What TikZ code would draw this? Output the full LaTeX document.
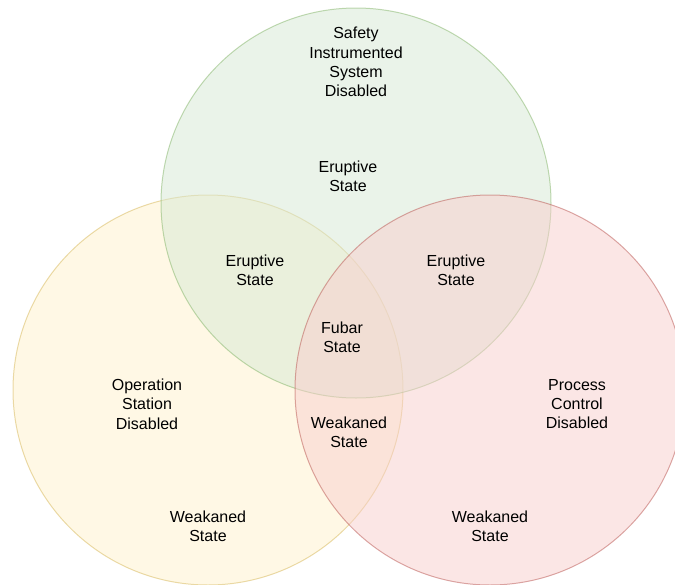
\documentclass[tikz,border=0pt]{standalone}
\usepackage{fontspec}
\setmainfont{Liberation Sans}
\definecolor{greenfill}{HTML}{D5E8D4}
\definecolor{greenline}{HTML}{82B366}
\definecolor{yellowfill}{HTML}{FFF2CC}
\definecolor{yellowline}{HTML}{D6B656}
\definecolor{redfill}{HTML}{F8CECC}
\definecolor{redline}{HTML}{B85450}
\begin{document}
\begin{tikzpicture}[x=1pt,y=-1pt,
  setcircle/.style={circle, minimum size=390pt, inner sep=0pt, line width=1pt, opacity=0.5},
  vtext/.style={align=center, font=\fontsize{16}{19.3}\selectfont, text=black, inner sep=0pt}]
\useasboundingbox (0,0) rectangle (675,584);
\clip (0,0) rectangle (675,584);
% the three sets
\node[setcircle, draw=yellowline, fill=yellowfill] (ops) at (208,390) {};
\node[setcircle, draw=greenline, fill=greenfill] (sis) at (356,203) {};
\node[setcircle, draw=redline, fill=redfill] (pcs) at (490,390) {};
% region labels
\node[vtext] (sistitle) at (356,62) {Safety\\Instrumented\\System\\Disabled};
\node[vtext] (sisonly) at (348,176) {Eruptive\\State};
\node[vtext] (sisops) at (255,270) {Eruptive\\State};
\node[vtext] (sispcs) at (456,270) {Eruptive\\State};
\node[vtext] (allthree) at (342,337) {Fubar\\State};
\node[vtext] (opstitle) at (147,404) {Operation\\Station\\Disabled};
\node[vtext] (pcstitle) at (577,404) {Process\\Control\\Disabled};
\node[vtext] (opspcs) at (349,432) {Weakaned\\State};
\node[vtext] (opsonly) at (208,526) {Weakaned\\State};
\node[vtext] (pcsonly) at (490,526) {Weakaned\\State};
\end{tikzpicture}
\end{document}
